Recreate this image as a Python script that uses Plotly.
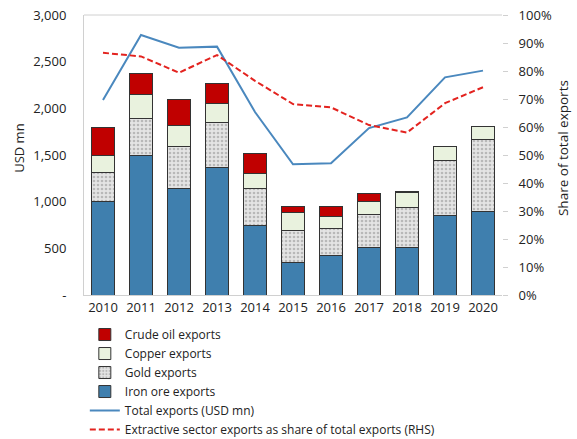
import plotly.graph_objects as go

years = ['2010', '2011', '2012', '2013', '2014', '2015', '2016', '2017', '2018', '2019', '2020']

iron_ore = [1000, 1490, 1136, 1371, 750, 346, 418, 507, 514, 850, 900]
gold = [310, 406, 450, 472, 396, 350, 296, 357, 425, 589, 761]
copper = [190, 247, 235, 214, 161, 186, 132, 143, 158, 147, 143]
crude_oil = [290, 225, 279, 214, 204, 62, 97, 82, 10, 0, 0]

total_exports = [2089, 2786, 2650, 2661, 1960, 1400, 1411, 1789, 1903, 2332, 2404]
extractive_share = [86.5, 85.2, 79.4, 85.7, 76.5, 68.2, 67.0, 60.7, 58.0, 68.5, 74.2]

fig = go.Figure()

line_col = '#333333'

fig.add_trace(go.Bar(x=years, y=iron_ore, name='Iron ore exports', legendrank=4,
                     marker=dict(color='#3F7FAE', line=dict(color=line_col, width=1))))
fig.add_trace(go.Bar(x=years, y=gold, name='Gold exports', legendrank=3,
                     marker=dict(color='#D9D9D9', line=dict(color=line_col, width=1),
                                 pattern=dict(shape='.', fgcolor='#8C8C8C', bgcolor='#E4E4E4',
                                              size=4, solidity=0.35))))
fig.add_trace(go.Bar(x=years, y=copper, name='Copper exports', legendrank=2,
                     marker=dict(color='#E9F2DE', line=dict(color=line_col, width=1))))
fig.add_trace(go.Bar(x=years, y=crude_oil, name='Crude oil exports', legendrank=1,
                     marker=dict(color='#C00000', line=dict(color=line_col, width=1))))

fig.add_trace(go.Scatter(x=years, y=total_exports, name='Total exports (USD mn)', legendrank=5,
                         mode='lines', line=dict(color='#4A88BE', width=2)))
fig.add_trace(go.Scatter(x=years, y=extractive_share, name='Extractive sector exports as share of total exports (RHS)',
                         legendrank=6, mode='lines', yaxis='y2',
                         line=dict(color='#E3231F', width=2, dash='6px,3px')))

fig.update_layout(
    width=577, height=439,
    margin=dict(l=84, r=75, t=15, b=144, autoexpand=False),
    barmode='stack', bargap=0.42,
    plot_bgcolor='white', paper_bgcolor='white',
    font=dict(family='Open Sans', size=13, color='#222222'),
    showlegend=True,
    legend=dict(xref='container', yref='container', x=0.147, y=0.271,
                xanchor='left', yanchor='top', traceorder='normal',
                font=dict(size=12), tracegroupgap=0, itemwidth=30,
                bgcolor='rgba(0,0,0,0)'),
    xaxis=dict(showline=True, linecolor='#D0D0D0', ticks='', tickfont=dict(size=13)),
    yaxis=dict(range=[0, 3000], automargin=False,
               tickvals=[0, 500, 1000, 1500, 2000, 2500, 3000],
               ticktext=['-', '500', '1,000', '1,500', '2,000', '2,500', '3,000'],
               showgrid=False, showline=True, linecolor='#D0D0D0', zeroline=False,
               ticklabelstandoff=14, tickfont=dict(size=13)),
    yaxis2=dict(overlaying='y', side='right', automargin=False,
                range=[0, 100], dtick=10, ticksuffix='%', showgrid=False, zeroline=False,
                ticks='outside', ticklen=5, tickcolor='#D0D0D0', ticklabelstandoff=8,
                tickfont=dict(size=13)),
)

# axis titles
fig.add_annotation(text='USD mn', xref='paper', yref='paper', x=-0.156, y=0.525,
                   xanchor='center', textangle=-90, showarrow=False, font=dict(size=13))
fig.add_annotation(text='Share of total exports', xref='paper', yref='paper', x=1.146, y=0.525,
                   xanchor='center', textangle=-90, showarrow=False, font=dict(size=13.5))

# top border line of the plot area
fig.add_shape(type='line', xref='paper', yref='paper', x0=0, x1=1, y0=1, y1=1,
              line=dict(color='#D0D0D0', width=1))

# drop the default 8px page margin so the chart fills the window
fig.write_html("out.html", config={'displayModeBar': False},
               post_script="document.body.style.margin = '0';")
